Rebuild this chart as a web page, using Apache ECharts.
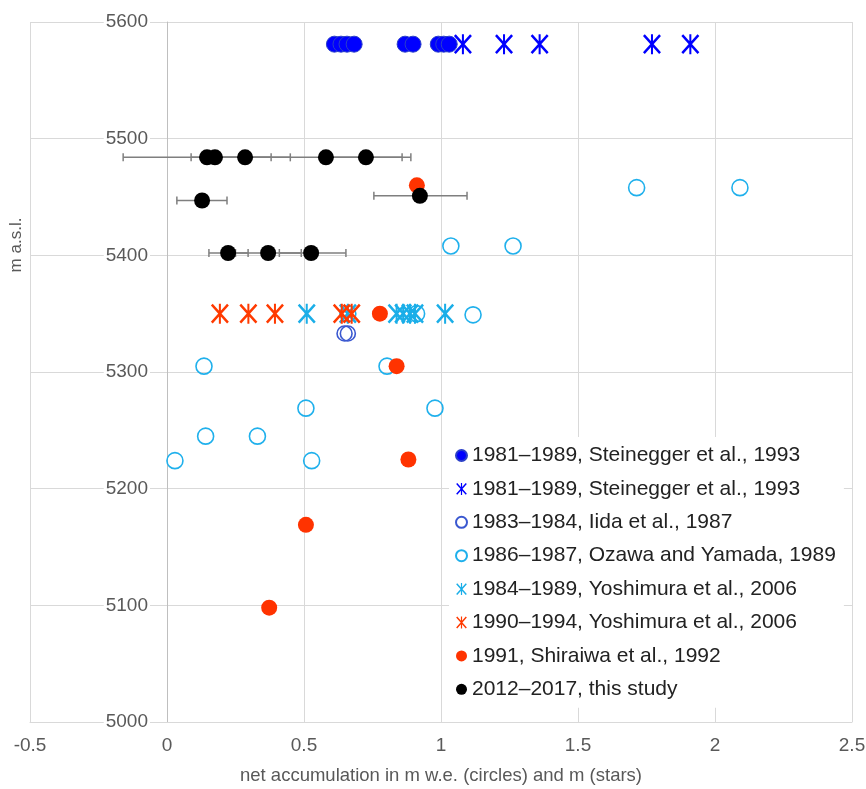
<!DOCTYPE html>
<html>
<head>
<meta charset="utf-8">
<script src="https://cdn.jsdelivr.net/npm/echarts@6/dist/echarts.min.js"></script>
<style>
  html, body { margin: 0; padding: 0; background: #fff; }
  #chart { width: 866px; height: 789px; }
</style>
</head>
<body>
<div id="chart"></div>
<script>
// values
const steineggerCircX = [0.611, 0.635, 0.657, 0.683, 0.869, 0.898, 0.99, 1.01, 1.03]
const steineggerCircY = [5581, 5581, 5581, 5581, 5581, 5581, 5581, 5581, 5581]
const steineggerStarX = [1.08, 1.23, 1.36, 1.77, 1.91]
const steineggerStarY = [5581, 5581, 5581, 5581, 5581]
const iidaX = [0.648, 0.66]
const iidaY = [5333, 5333]
const ozawaX = [1.714, 2.091, 1.036, 1.263, 1.117, 0.911, 0.66, 0.135, 0.803, 0.507, 0.978, 0.141, 0.33, 0.029, 0.528]
const ozawaY = [5458, 5458, 5408, 5408, 5349, 5350, 5350, 5305, 5305, 5269, 5269, 5245, 5245, 5224, 5224]
const yoshi84X = [0.51, 0.66, 0.838, 0.862, 0.887, 0.905, 1.015]
const yoshi84Y = [5350, 5350, 5350, 5350, 5350, 5350, 5350]
const yoshi90X = [0.193, 0.297, 0.394, 0.638, 0.674]
const yoshi90Y = [5350, 5350, 5350, 5350, 5350]
const shiraiwaX = [0.912, 0.777, 0.838, 0.881, 0.507, 0.373]
const shiraiwaY = [5460, 5350, 5305, 5225, 5169, 5098]
const studyX = [0.146, 0.175, 0.285, 0.58, 0.726, 0.128, 0.923, 0.223, 0.369, 0.526]
const studyY = [5484, 5484, 5484, 5484, 5484, 5447, 5451, 5402, 5402, 5402]
const studyLow = [-0.16, 0.088, 0.19, 0.27, 0.594, 0.036, 0.755, 0.153, 0.25, 0.41]
const studyHigh = [0.45, 0.262, 0.38, 0.89, 0.858, 0.219, 1.095, 0.296, 0.49, 0.653]

const names = [
  '1981–1989, Steinegger et al., 1993',
  '1981–1989, Steinegger et al., 1993 ',
  '1983–1984, Iida et al., 1987',
  '1986–1987, Ozawa and Yamada, 1989',
  '1984–1989, Yoshimura et al., 2006',
  '1990–1994, Yoshimura et al., 2006',
  '1991, Shiraiwa et al., 1992',
  '2012–2017, this study'
]

const starPath = 'path://M1.1,1.8L2.9,0.2L18.9,18.2L17.1,19.8ZM17.1,0.2L18.9,1.8L2.9,19.8L1.1,18.2ZM9,0L11,0L11,20L9,20Z'
const font = 'Liberation Sans'

const zip = (xs, ys) => xs.map((x, i) => [x, ys[i]])

const chart = echarts.init(document.getElementById('chart'))

function dots(name, xs, ys, style, extra) {
  return Object.assign({
    name: name,
    type: 'scatter',
    data: zip(xs, ys),
    symbol: 'circle',
    symbolSize: 16,
    itemStyle: Object.assign({ opacity: 1 }, style),
    emphasis: { disabled: true }
  }, extra || {})
}

chart.setOption({
  animation: false,
  grid: { left: 30, right: 14, top: 22, bottom: 67, containLabel: false, outerBoundsMode: 'none' },
  legend: {
    data: names,
    orient: 'vertical',
    left: 449,
    top: 437,
    padding: [8, 8, 8, 6],
    backgroundColor: '#fff',
    itemWidth: 11,
    itemHeight: 12,
    itemGap: 12.4,
    textStyle: { fontFamily: font, fontSize: 21, lineHeight: 20, color: '#222' }
  },
  xAxis: {
    type: 'value',
    min: -0.5,
    max: 2.5,
    interval: 0.5,
    name: 'net accumulation in m w.e. (circles) and m (stars)',
    nameLocation: 'middle',
    nameGap: 44,
    nameTextStyle: { fontFamily: font, fontSize: 18.5, color: '#595959' },
    axisLine: { lineStyle: { color: '#d9d9d9', width: 1 } },
    axisTick: { show: false },
    axisLabel: { fontFamily: font, fontSize: 19, color: '#595959', margin: 14 },
    splitLine: { lineStyle: { color: '#d9d9d9', width: 1 } }
  },
  yAxis: {
    type: 'value',
    min: 5000,
    max: 5600,
    interval: 100,
    offset: -137,
    axisLine: { show: true, onZero: false, lineStyle: { color: '#bfbfbf', width: 1 } },
    axisTick: { show: false },
    axisLabel: {
      fontFamily: font, fontSize: 19, color: '#595959', margin: 17,
      backgroundColor: '#fff', padding: [0, 2],
      formatter: v => String(v)
    },
    splitLine: { lineStyle: { color: '#d9d9d9', width: 1 } }
  },
  graphic: [{
    type: 'text',
    x: 16,
    y: 245,
    rotation: Math.PI / 2,
    style: {
      text: 'm a.s.l.',
      fontFamily: font,
      fontSize: 17,
      fill: '#595959',
      align: 'center',
      verticalAlign: 'middle'
    }
  }],
  series: [
    dots(names[0], steineggerCircX, steineggerCircY, { color: '#0000ff', borderColor: '#2a3fc8', borderWidth: 1 }),
    dots(names[1], steineggerStarX, steineggerStarY, { color: '#0000ff' }, { symbol: starPath, symbolSize: [18, 20] }),
    dots(names[2], iidaX, iidaY, { color: 'rgba(255,255,255,0)', borderColor: '#3a58d0', borderWidth: 1.6 }, { symbolSize: 15 }),
    dots(names[3], ozawaX, ozawaY, { color: 'rgba(255,255,255,0)', borderColor: '#1fb0ec', borderWidth: 1.6 }),
    dots(names[4], yoshi84X, yoshi84Y, { color: '#1aaee8' }, { symbol: starPath, symbolSize: [18, 20] }),
    dots(names[5], yoshi90X, yoshi90Y, { color: '#ff3a00' }, { symbol: starPath, symbolSize: [18, 20] }),
    dots(names[6], shiraiwaX, shiraiwaY, { color: '#ff3300' }),
    {
      name: 'error',
      type: 'custom',
      data: studyX.map((x, i) => [x, studyY[i], studyLow[i], studyHigh[i]]),
      encode: { x: 0, y: 1 },
      renderItem: function (params, api) {
        const y = api.value(1)
        const a = api.coord([api.value(2), y])
        const b = api.coord([api.value(3), y])
        const h = 4
        const style = { stroke: '#7f7f7f', lineWidth: 1.5 }
        return {
          type: 'group',
          children: [
            { type: 'line', shape: { x1: a[0], y1: a[1], x2: b[0], y2: b[1] }, style: style },
            { type: 'line', shape: { x1: a[0], y1: a[1] - h, x2: a[0], y2: a[1] + h }, style: style },
            { type: 'line', shape: { x1: b[0], y1: b[1] - h, x2: b[0], y2: b[1] + h }, style: style }
          ]
        }
      }
    },
    dots(names[7], studyX, studyY, { color: '#000' })
  ]
})
</script>
</body>
</html>
